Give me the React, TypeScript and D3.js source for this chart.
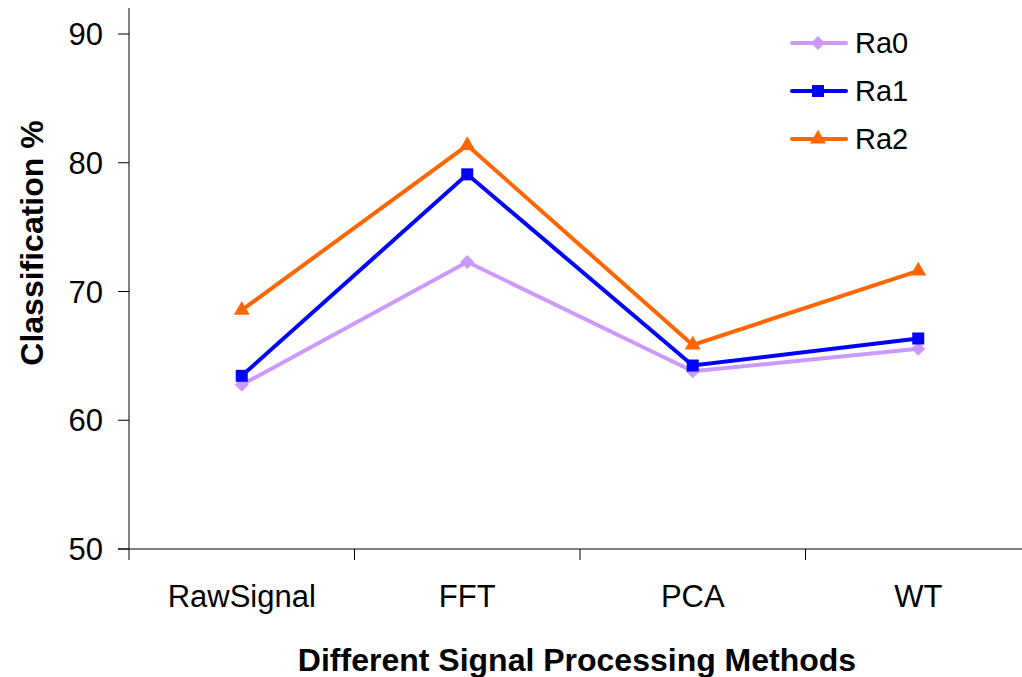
import React from "react";
import * as d3 from "d3";

const methods = ["RawSignal", "FFT", "PCA", "WT"];
const ra0 = [62.75, 72.3, 63.8, 65.55];
const ra1 = [63.45, 79.1, 64.25, 66.35];
const ra2 = [68.55, 81.35, 65.85, 71.6];
const seriesNames = ["Ra0", "Ra1", "Ra2"];
const yTicks = [50, 60, 70, 80, 90];

const W = 1022;
const H = 677;
const margin = { left: 129, right: -9, top: 34, bottom: 128 };

const colors = ["#CC99FF", "#0000FF", "#FF6600"];

// marker paths: diamond (rotated square), square, triangle
const markerPath = (s: number): string => {
  if (s === 0) {
    const r = 7;
    return `M0,${-r}L${r},0L0,${r}L${-r},0Z`;
  }
  if (s === 1) return d3.symbol().type(d3.symbolSquare).size(144)() ?? "";
  return d3.symbol().type(d3.symbolTriangle).size(110)() ?? "";
};

export default function App() {
  const x = d3
    .scaleBand<string>()
    .domain(methods)
    .range([margin.left, W - margin.right]);
  const y = d3.scaleLinear().domain([50, 90]).range([H - margin.bottom, margin.top]);
  const cx = (m: string) => (x(m) ?? 0) + x.bandwidth() / 2;

  const line = d3
    .line<number>()
    .x((_, i) => cx(methods[i]))
    .y((v) => y(v));

  const all = [ra0, ra1, ra2];
  const font = "'Liberation Sans', Arial, sans-serif";
  const baseY = y(50);

  return (
    <svg
      width={W}
      height={H}
      style={{ position: "absolute", left: 0, top: 0, background: "#fff" }}
      fontFamily={font}
    >
      {/* y axis */}
      <line x1={margin.left} x2={margin.left} y1={8} y2={baseY} stroke="#000" strokeWidth={1} />
      {yTicks.map((t) => (
        <g key={t}>
          <line x1={margin.left - 11} x2={margin.left} y1={y(t)} y2={y(t)} stroke="#000" />
          <text x={103} y={y(t)} dy="0.36em" textAnchor="end" fontSize={31}>
            {t}
          </text>
        </g>
      ))}
      {/* x axis */}
      <line x1={margin.left - 11} x2={W - margin.right} y1={baseY} y2={baseY} stroke="#000" />
      {methods.map((m) => (
        <g key={m}>
          <line x1={x(m) ?? 0} x2={x(m) ?? 0} y1={baseY} y2={baseY + 11} stroke="#000" />
          <text x={cx(m)} y={596} dy="0.36em" textAnchor="middle" fontSize={31}>
            {m}
          </text>
        </g>
      ))}

      {/* series */}
      {all.map((vals, s) => (
        <g key={s}>
          <path d={line(vals) ?? ""} fill="none" stroke={colors[s]} strokeWidth={4} />
          {vals.map((v, i) => (
            <path
              key={i}
              d={markerPath(s)}
              transform={`translate(${cx(methods[i])},${y(v)})`}
              fill={colors[s]}
            />
          ))}
        </g>
      ))}

      {/* legend */}
      {seriesNames.map((n, s) => {
        const ly = 43 + s * 48;
        return (
          <g key={n}>
            <line
              x1={792}
              x2={846}
              y1={ly}
              y2={ly}
              stroke={colors[s]}
              strokeWidth={4}
              strokeLinecap="round"
            />
            <path d={markerPath(s)} transform={`translate(818,${ly})`} fill={colors[s]} />
            <text x={855} y={ly} dy="0.36em" fontSize={29}>
              {n}
            </text>
          </g>
        );
      })}

      {/* titles */}
      <text x={577} y={659} dy="0.36em" textAnchor="middle" fontSize={32} fontWeight="bold">
        Different Signal Processing Methods
      </text>
      <text
        transform={`translate(31,${243}) rotate(-90)`}
        dy="0.36em"
        textAnchor="middle"
        fontSize={32}
        fontWeight="bold"
      >
        Classification %
      </text>
    </svg>
  );
}
